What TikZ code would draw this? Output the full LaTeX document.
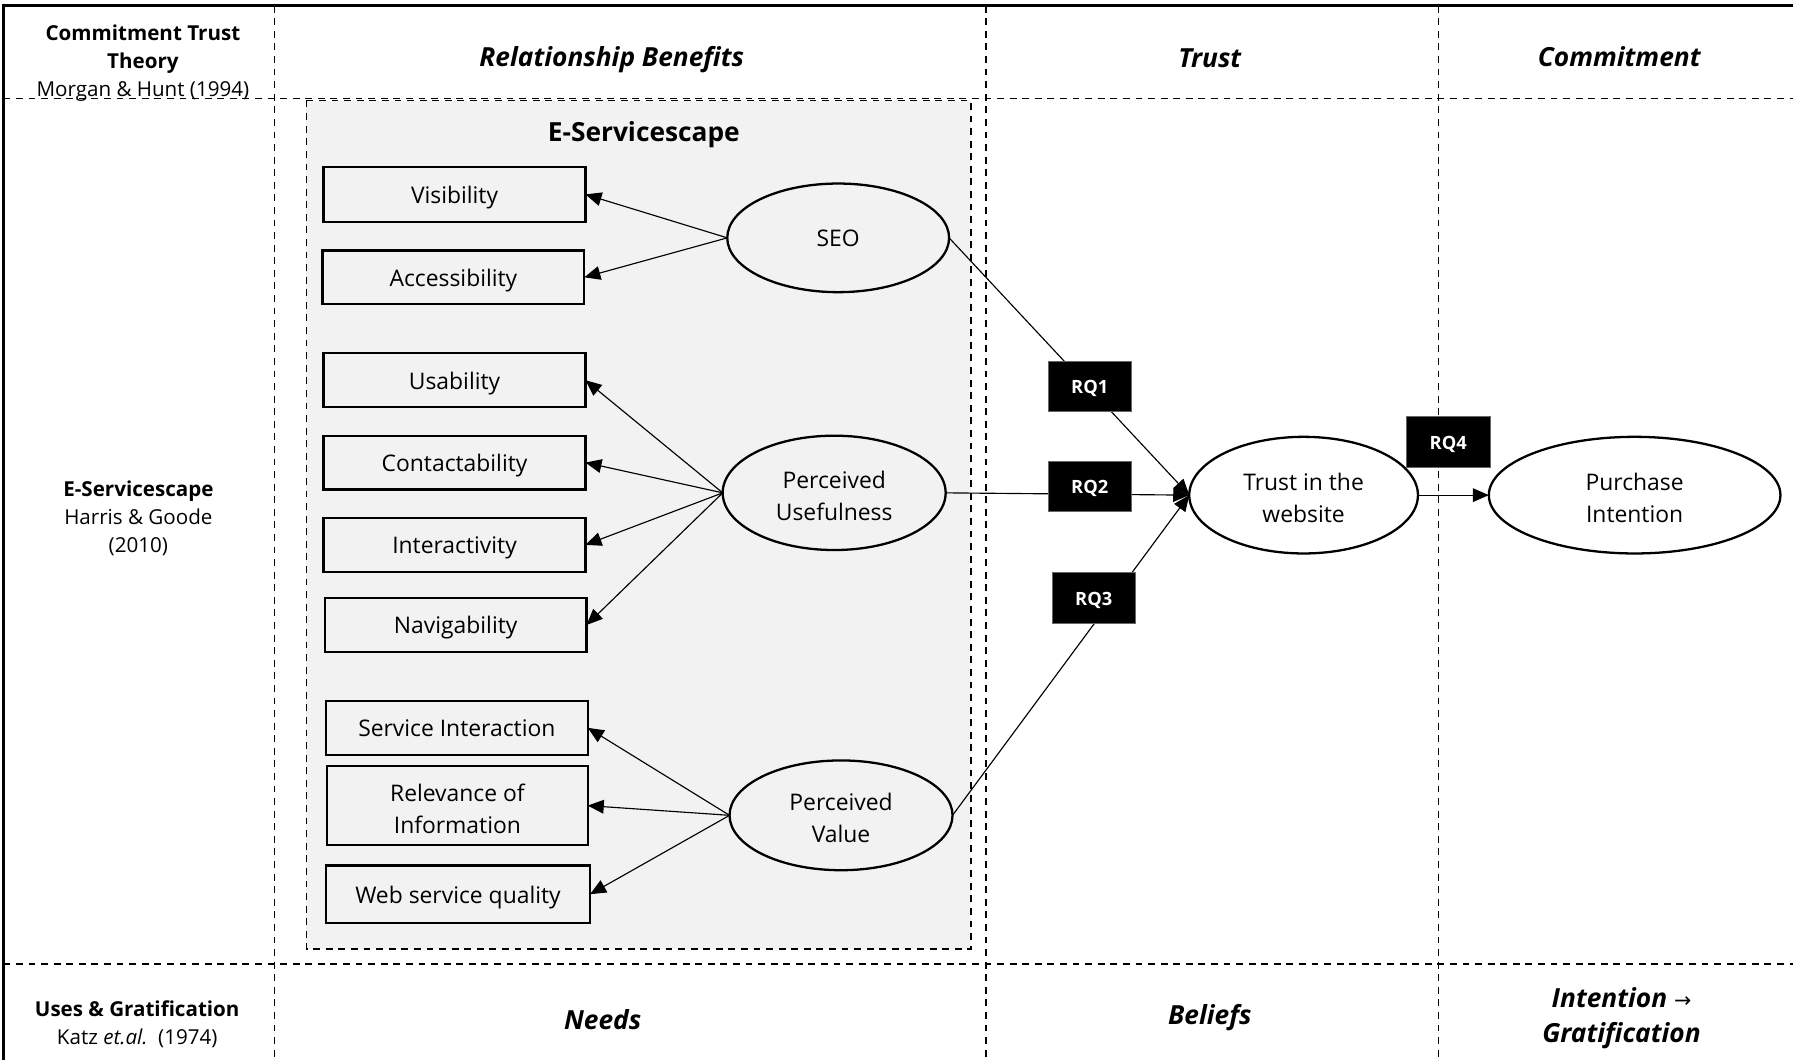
\documentclass[tikz,border=0pt]{standalone}
\usepackage{fontspec}
\setmainfont{Open Sans}
\newfontfamily\symfont{DejaVu Sans}
\usetikzlibrary{shapes.geometric,arrows.meta}

\begin{document}
\begin{tikzpicture}[x=0.5pt,y=-0.5pt,
  % fixed text box sizes keep one- and two-line labels at a steady height
  oneline/.style={text height=7.8pt, text depth=0pt},
  twolines/.style={text height=24.1pt, text depth=0pt},
  box/.style={draw, line width=1pt, rectangle, inner sep=0pt, outer sep=0pt,
    align=center, font=\fontsize{10}{14}\selectfont, oneline},
  oval/.style={draw, line width=1pt, ellipse, inner sep=0pt, outer sep=0pt,
    align=center, font=\fontsize{10}{14}\selectfont, twolines},
  link/.style={line width=0.5pt, -{Triangle[length=7pt,width=6pt]}},
  rq/.style={fill=black, draw=black!60, line width=0.4pt, text=white,
    font=\bfseries\fontsize{8}{10}\selectfont, minimum width=36.5pt,
    minimum height=22pt, inner sep=0pt, text height=7.7pt, text depth=1.5pt},
  gridline/.style={dash pattern=on 3pt off 2.5pt, line width=0.7pt},
  head/.style={font=\bfseries\itshape\fontsize{11.5}{15.5}\selectfont, align=center},
  side/.style={align=center, font=\fontsize{9}{12.25}\selectfont}
]
\useasboundingbox (0,0) rectangle (1568,927);

% E-Servicescape panel
\draw[gridline, fill=black!5] (268,88) rectangle (849,830);

% table frame
\draw[line width=1.2pt] (3,927) -- (3,5) -- (1568,5);
\draw[gridline] (3,86) -- (1568,86);
\draw[gridline] (3,843) -- (1568,843);
\foreach \xx in {240,862,1258} \draw[gridline] (\xx,5) -- (\xx,927);

% row and column labels
\node[side] (ctt) at (125,55.5) {\textbf{Commitment Trust}\\\textbf{Theory}\\Morgan \& Hunt (1994)};
\node[side] (esl) at (121,453) {\textbf{E-Servicescape}\\Harris \& Goode\\(2010)};
\node[side] (ug) at (120,895.5) {\textbf{Uses \& Gratification}\\Katz \textit{et.al.}\ \ (1974)};
\node[head] (hrb) at (535,52) {Relationship Benefits};
\node[head] (htr) at (1058,51) {Trust};
\node[head] (hco) at (1416,49.5) {Commitment};
\node[head] (hne) at (527,892) {Needs};
\node[head] (hbe) at (1058,890) {Beliefs};
\node[head] (hig) at (1418,890.5) {Intention {\symfont\mdseries\upshape\fontsize{9}{12}\selectfont →}\\Gratification};

\node[font=\bfseries\fontsize{11.5}{14}\selectfont] (est) at (563,117.5) {E-Servicescape};

% dimension boxes
\node[box, minimum width=114.5pt, minimum height=24pt] (vis) at (397.5,170) {Visibility};
\node[box, minimum width=114.5pt, minimum height=23.5pt] (acc) at (396.5,242.5) {Accessibility};
\node[box, minimum width=114.5pt, minimum height=23.5pt] (usa) at (397.5,332.5) {Usability};
\node[box, minimum width=114.5pt, minimum height=23.5pt] (con) at (397.5,404.5) {Contactability};
\node[box, minimum width=114.5pt, minimum height=23.5pt] (int) at (397.5,476.5) {Interactivity};
\node[box, minimum width=114.5pt, minimum height=23.5pt] (nav) at (398.5,546.5) {Navigability};
\node[box, minimum width=114.5pt, minimum height=23.5pt] (ser) at (399.5,636.5) {Service Interaction};
\node[box, twolines, minimum width=114pt, minimum height=34.5pt] (rel) at (400,704.5) {Relevance of\\Information};
\node[box, minimum width=115.5pt, minimum height=25pt] (web) at (400.5,782) {Web service quality};

% constructs
\node[oval, oneline, minimum width=97pt, minimum height=47.5pt] (seo) at (733,208) {SEO};
\node[oval, minimum width=97.5pt, minimum height=50pt] (pu) at (729.5,431) {Perceived\\Usefulness};
\node[oval, minimum width=97.5pt, minimum height=48pt] (pv) at (735.5,713) {Perceived\\Value};
\node[oval, minimum width=100pt, minimum height=51pt] (tw) at (1140,433) {Trust in the\\website};
\node[oval, minimum width=127.5pt, minimum height=51pt] (pi) at (1429.5,433) {Purchase\\Intention};

% construct -> dimension
\draw[link] (seo.west) -- (vis.east);
\draw[link] (seo.west) -- (acc.east);
\draw[link] (pu.west) -- (usa.east);
\draw[link] (pu.west) -- (con.east);
\draw[link] (pu.west) -- (int.east);
\draw[link] (pu.west) -- (nav.east);
\draw[link] (pv.west) -- (ser.east);
\draw[link] (pv.west) -- (rel.east);
\draw[link] (pv.west) -- (web.east);

% research paths
\draw[link] (seo.east) -- (tw.west);
\draw[link] (pu.east) -- (tw.west);
\draw[link] (pv.east) -- (tw.west);
\draw[link] (tw.east) -- (pi.west);

\node[rq] (rq1) at (953,338) {RQ1};
\node[rq] (rq2) at (953,425.5) {RQ2};
\node[rq] (rq3) at (956.5,523) {RQ3};
\node[rq] (rq4) at (1266.5,386.5) {RQ4};
\end{tikzpicture}
\end{document}
